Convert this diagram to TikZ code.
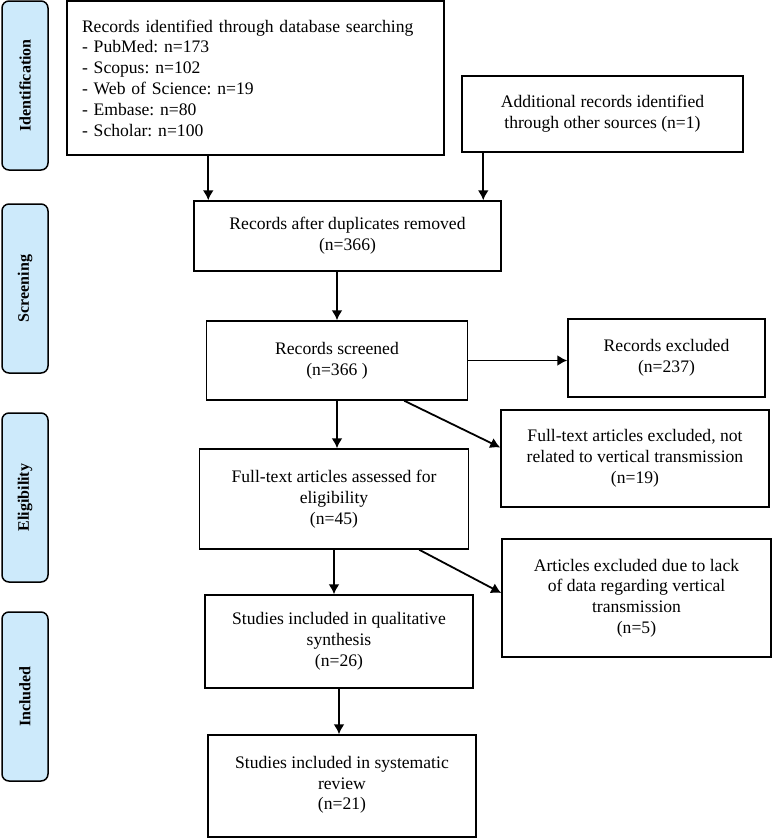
\documentclass[tikz,border=0pt]{standalone}
\usepackage{fontspec}
\setmainfont{Liberation Serif}
\usepackage{xcolor}
\usepackage{tikz}
\usetikzlibrary{positioning, arrows.meta}

\definecolor{stagefill}{HTML}{CDEAFB}
\frenchspacing

\begin{document}
\begin{tikzpicture}[x=1pt, y=-1pt,
    every node/.style={font=\fontsize{17.6}{20.8}\selectfont}]

  \tikzstyle{box}=[draw, line width=1.5pt, align=center, inner sep=0pt]
  \tikzstyle{stage}=[draw, line width=1.5pt, rounded corners=7pt, fill=stagefill,
    minimum width=46pt, minimum height=169pt, inner sep=0pt]
  \tikzstyle{flow}=[line width=1.8pt, -{Latex[length=10pt, width=11pt]}]

  \useasboundingbox (0,0) rectangle (772,839);

  % stages on the left
  \node [stage] (ident) at (25,85.5) {};
  \node [stage] (screen) at (25,288.5) {};
  \node [stage] (elig) at (25,497.5) {};
  \node [stage] (incl) at (25,696.5) {};
  \foreach \s/\t in {ident/Identification, screen/Screening, elig/Eligibility, incl/Included} {
    \node [rotate=90, font=\fontsize{16}{18}\selectfont\bfseries] at (\s) {\t};
  }

  \node [box, align=left, text width=347pt, minimum height=154pt, inner xsep=15pt] (recs) at (255.5,78) {
    Records identified through database searching \\
    - PubMed: n=173 \\
    - Scopus: n=102 \\
    - Web of Science: n=19 \\
    - Embase: n=80 \\
    - Scholar: n=100
  };
  \node [box, minimum width=281pt, minimum height=76pt] (addl) at (602.5,114) {
    Additional records identified \\
    through other sources (n=1)
  };

  \node [box, minimum width=307pt, minimum height=70pt] (dedup) at (347.5,236) {
    Records after duplicates removed \\
    (n=366)
  };
  \node [box, minimum width=261pt, minimum height=79pt] (screened) at (337,360.5) {
    Records screened \\
    (n=366 )
  };
  \node [box, minimum width=197pt, minimum height=78pt] (excl) at (666.5,358) {
    Records excluded \\
    (n=237)
  };

  \node [box, minimum width=268pt, minimum height=97pt] (ftexcl) at (635,458.5) {
    Full-text articles excluded, not \\
    related to vertical transmission \\
    (n=19)
  };
  \node [box, minimum width=269pt, minimum height=100pt] (fulltext) at (334,499) {
    Full-text articles assessed for \\
    eligibility \\
    (n=45)
  };
  \node [box, minimum width=269pt, minimum height=118pt] (lackexcl) at (636.5,598) {
    Articles excluded due to lack \\
    of data regarding vertical \\
    transmission \\
    (n=5)
  };

  \node [box, minimum width=268pt, minimum height=93pt] (qual) at (339,641.5) {
    Studies included in qualitative \\
    synthesis \\
    (n=26)
  };
  \node [box, minimum width=268pt, minimum height=102pt, text depth=6pt] (review) at (342,786) {
    Studies included in systematic \\
    review \\
    (n=21)
  };

  \draw [flow] ([xshift=15pt]dedup.north west |- recs.south) -- ([xshift=15pt]dedup.north west);
  \draw [flow] ([xshift=22pt]addl.south west) -- ([xshift=22pt]addl.south west |- dedup.north);
  \draw [flow] (dedup.south -| screened.north) -- (screened.north);
  \draw [flow] (screened.east) -- (screened.east -| excl.west);
  \draw [flow] (screened.south) -- (screened.south |- fulltext.north);
  \draw [flow] ([xshift=-64pt]screened.south east) -- ([yshift=11pt]ftexcl.west);
  \draw [flow] (fulltext.south) -- (fulltext.south |- qual.north);
  \draw [flow] ([xshift=-50pt]fulltext.south east) -- ([yshift=5pt]lackexcl.west);
  \draw [flow] (qual.south) -- (qual.south |- review.north);

\end{tikzpicture}
\end{document}
